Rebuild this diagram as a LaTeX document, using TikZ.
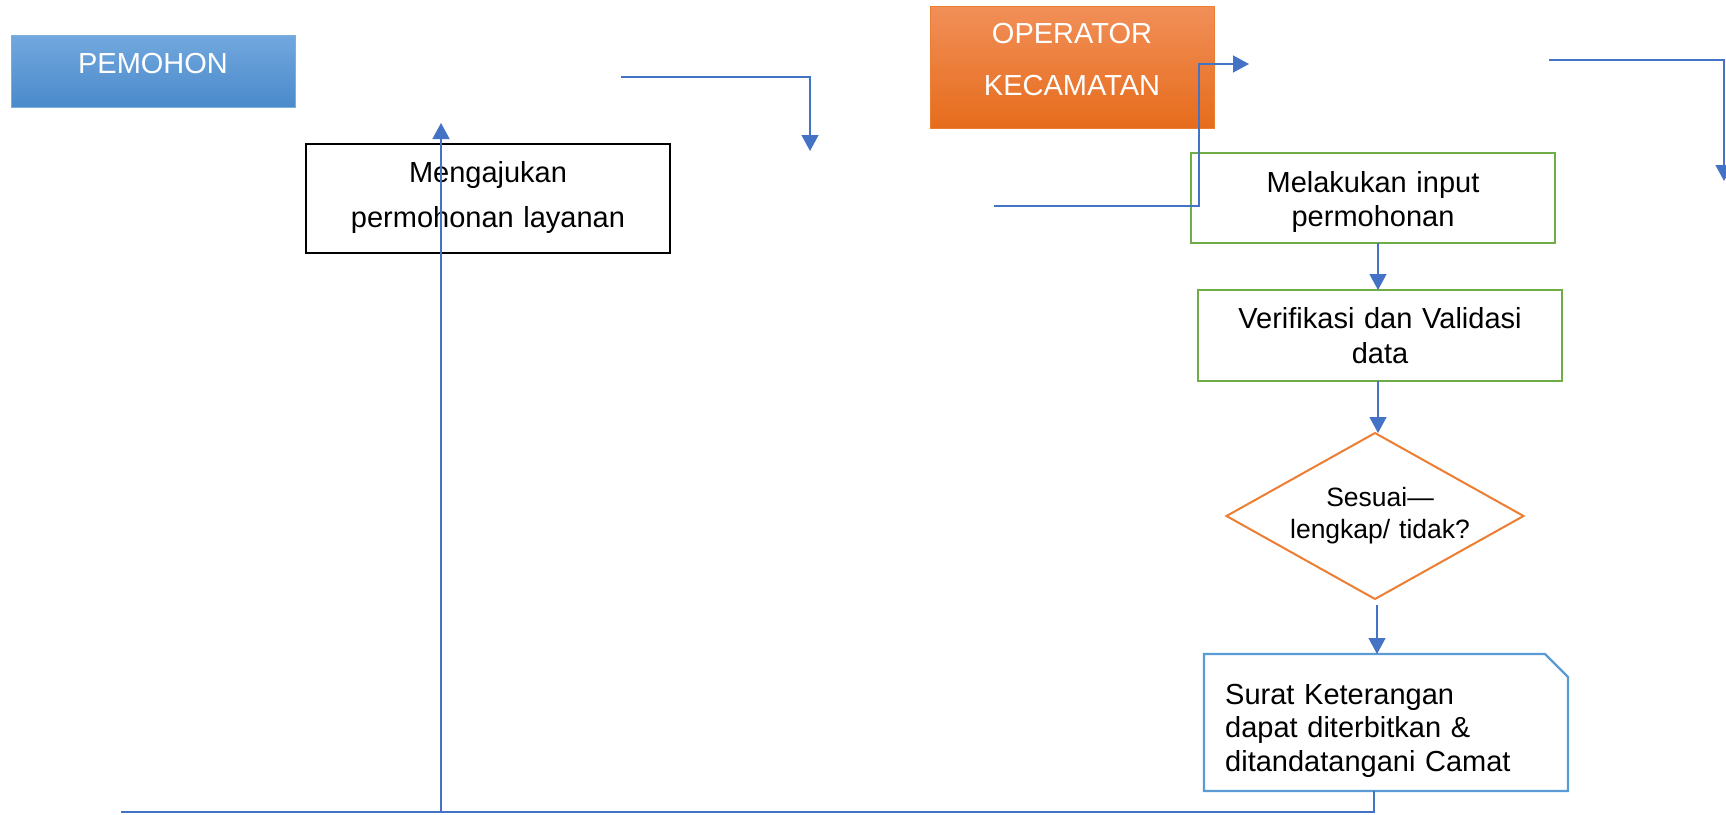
\documentclass[tikz,border=0pt]{standalone}
\usepackage{fontspec}
\setmainfont{Liberation Sans}
\usetikzlibrary{arrows.meta,shapes.geometric}
\definecolor{linkblue}{HTML}{4472C4}
\definecolor{grn}{HTML}{70AD47}
\definecolor{org}{HTML}{ED7D31}
\definecolor{sky}{HTML}{5B9BD5}
\definecolor{bluetop}{HTML}{72A8DE}
\definecolor{bluebot}{HTML}{4A8ACB}
\definecolor{orgtop}{HTML}{F18F58}
\definecolor{orgbot}{HTML}{E66C1C}
\tikzset{
  link/.style={draw=linkblue, line width=1.3pt},
  arr/.style={link, -{Triangle[width=17pt,length=16pt]}},
  shapebox/.style={rectangle, inner sep=0pt, outer sep=0pt},
  txt/.style={text width=360pt, align=center, anchor=base, inner sep=0pt},
  lane/.style={shapebox},
}
\begin{document}
\begin{tikzpicture}[x=1pt,y=-1pt]
\useasboundingbox (0,0) rectangle (1726,814);

% lane headers
\node[lane, top color=bluetop, bottom color=bluebot, draw=sky!80, line width=1pt,
      minimum width=284pt, minimum height=72pt] (pem) at (153,71) {};
\node[txt, text=white, font=\fontsize{29}{35}\selectfont] (pemt) at (153,73) {PEMOHON};

\node[lane, top color=orgtop, bottom color=orgbot, draw=org, line width=1pt,
      minimum width=284pt, minimum height=122pt] (opr) at (1072,67) {};
\node[txt, text=white, font=\fontsize{29}{52}\selectfont] (oprt) at (1072,43) {OPERATOR\\KECAMATAN};

% process boxes
\node[shapebox, draw=black, line width=2.4pt, minimum width=364pt, minimum height=109pt] (req) at (488,198.5) {};
\node[txt, font=\fontsize{29}{45}\selectfont] (reqt) at (488,182) {Mengajukan\\permohonan layanan};

\node[shapebox, draw=grn, line width=2.4pt, minimum width=364pt, minimum height=90pt] (input) at (1373,198) {};
\node[txt, font=\fontsize{29}{34}\selectfont] (inputt) at (1373,192) {Melakukan input\\permohonan};

\node[shapebox, draw=grn, line width=2.4pt, minimum width=364pt, minimum height=91pt] (verif) at (1380,335.5) {};
\node[txt, font=\fontsize{29}{35}\selectfont] (verift) at (1380,328) {Verifikasi dan Validasi\\data};

\node[diamond, draw=org, line width=2pt, inner sep=0pt, outer sep=0pt,
      minimum width=297pt, minimum height=166pt] (dec) at (1375,516) {};
\node[txt, font=\fontsize{26.5}{32}\selectfont] (dect) at (1380,506) {Sesuai—\\lengkap/ tidak?};

\node[shapebox, minimum width=364pt, minimum height=137pt] (surat) at (1386,722.5) {};
\draw[draw=sky, line width=2.4pt, line join=miter]
  (surat.south west) -- (surat.north west) -- ([xshift=-23pt]surat.north east)
  -- ([yshift=-23pt]surat.north east) -- (surat.south east) -- cycle;
\node[txt, align=left, anchor=base west, text width=340pt, font=\fontsize{29}{33.5}\selectfont]
  (surat t) at (1225,704) {Surat Keterangan\\dapat diterbitkan \&\\ditandatangani Camat};

% connectors
\coordinate (p1) at (621,77);
\coordinate (p1e) at (810,151);
\draw[arr] (p1) -| (p1e);

\coordinate (p2) at (994,206);
\coordinate (p2k) at (1199,206);
\coordinate (p2e) at (1249,64);
\draw[arr] (p2) -- (p2k) |- (p2e);

\coordinate (p3) at (1549,60);
\coordinate (p3e) at (1724,181);
\draw[arr] (p3) -| (p3e);

\coordinate (colA) at (1378,0);
\coordinate (colB) at (1377,0);
\draw[arr] (input.south -| colA) -- (verif.north -| colA);
\draw[arr] (verif.south -| colA) -- (dec.north -| colA);
\draw[arr] ([yshift=-6pt]dec.south -| colB) -- (surat.north -| colB);

\coordinate (p4) at (1374,812);
\coordinate (p4e) at (121,812);
\draw[link] (surat.south -| p4) -- (p4) -- (p4e);

\coordinate (p5) at (441,812);
\coordinate (p5e) at (441,123);
\draw[arr] (p5) -- (p5e);
\end{tikzpicture}
\end{document}
